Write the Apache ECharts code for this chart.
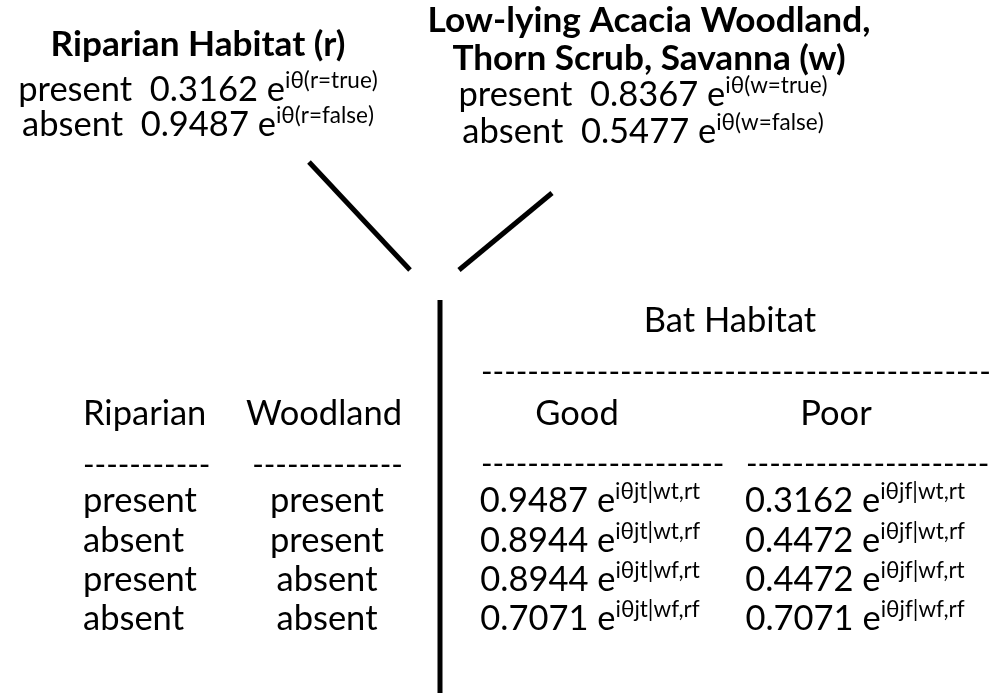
<!DOCTYPE html>
<html>
<head>
<meta charset="utf-8">
<script src="https://cdn.jsdelivr.net/npm/echarts@6/dist/echarts.min.js"></script>
<style>
html,body{margin:0;padding:0;background:#fff;}
#chart{width:992px;height:693px;}
</style>
</head>
<body>
<div id="chart"></div>
<script>
// ---- data ----
const riparianTitle = 'Riparian Habitat (r)';
const woodlandTitle = ['Low-lying Acacia Woodland,', 'Thorn Scrub, Savanna (w)'];
const priorStates = ['present', 'absent'];
const riparianAmps = [0.3162, 0.9487];
const riparianPhases = ['r=true', 'r=false'];
const woodlandAmps = [0.8367, 0.5477];
const woodlandPhases = ['w=true', 'w=false'];
const tableHeaders = ['Riparian', 'Woodland'];
const tableRiparian = ['present', 'absent', 'present', 'absent'];
const tableWoodland = ['present', 'present', 'absent', 'absent'];
const outcomeTitle = 'Bat Habitat';
const outcomeHeaders = ['Good', 'Poor'];
const goodAmps = [0.9487, 0.8944, 0.8944, 0.7071];
const poorAmps = [0.3162, 0.4472, 0.4472, 0.7071];
const conditionKeys = ['wt,rt', 'wt,rf', 'wf,rt', 'wf,rf'];
const dashCounts = {col1: 11, col2: 13, wide: 45, good: 21, poor: 21};

// ---- layout / style ----
const FONT = 'Lato';
const BASE = 34.5, TITLE = 35.2, DASH = 31.2, SUP = 22.5, LH = 40;
const MID = 0.387; // distance from middle to alphabetic baseline (em)
const richStyles = {
  sup: {fontSize: SUP, fontFamily: FONT, lineHeight: 29, verticalAlign: 'top', fill: '#000'}
};
const dashes = n => '-'.repeat(n);
const amp = v => v.toFixed(4);
const expo = (v, ph) => amp(v) + ' e{sup|iθ' + ph + '}';

const texts = [];
function T(text, x, baseline, align, kind) {
  const size = kind === 'bold' ? TITLE : kind === 'dash' ? DASH : BASE;
  texts.push({text, x, y: baseline - MID * size, align, size, bold: kind === 'bold'});
}
// top left block
T(riparianTitle, 198, 58, 'center', 'bold');
priorStates.forEach((s, i) => T(s + '  ' + expo(riparianAmps[i], '(' + riparianPhases[i] + ')'), 198, 103 + i * 35, 'center'));
// top right block
T(woodlandTitle[0], 649, 34, 'center', 'bold');
T(woodlandTitle[1], 649, 72, 'center', 'bold');
priorStates.forEach((s, i) => T(s + '  ' + expo(woodlandAmps[i], '(' + woodlandPhases[i] + ')'), 643, 108 + i * 37, 'center'));
// left table
T(tableHeaders[0], 83, 427, 'left');
T(tableHeaders[1], 324, 427, 'center');
T(dashes(dashCounts.col1), 83, 477, 'left', 'dash');
T(dashes(dashCounts.col2), 327.5, 477, 'center', 'dash');
const rowBase = [514, 554, 593, 632];
tableRiparian.forEach((s, i) => T(s, 83, rowBase[i], 'left'));
tableWoodland.forEach((s, i) => T(s, 327, rowBase[i], 'center'));
// right table
T(outcomeTitle, 730, 334, 'center');
T(dashes(dashCounts.wide), 481, 384, 'left', 'dash');
T(outcomeHeaders[0], 577, 427, 'center');
T(outcomeHeaders[1], 836, 427, 'center');
T(dashes(dashCounts.good), 481, 476, 'left', 'dash');
T(dashes(dashCounts.poor), 746, 476, 'left', 'dash');
goodAmps.forEach((v, i) => T(expo(v, 'jt|' + conditionKeys[i]), 590, rowBase[i], 'center'));
poorAmps.forEach((v, i) => T(expo(v, 'jf|' + conditionKeys[i]), 855, rowBase[i], 'center'));

const segments = [
  [309, 162, 410, 270],
  [459, 270, 552, 193],
  [440, 300, 440, 693]
];

const chart = echarts.init(document.getElementById('chart'), null, {renderer: 'canvas'});
chart.setOption({
  animation: false,
  backgroundColor: '#ffffff',
  grid: {left: 0, right: 0, top: 0, bottom: 0},
  xAxis: {type: 'value', min: 0, max: 992, show: false},
  yAxis: {type: 'value', min: 0, max: 693, inverse: true, show: false},
  series: [
    {
      type: 'custom',
      clip: false,
      data: segments,
      encode: {x: [0, 2], y: [1, 3]},
      renderItem: (params, api) => {
        const a = api.coord([api.value(0), api.value(1)]);
        const b = api.coord([api.value(2), api.value(3)]);
        return {type: 'line', shape: {x1: a[0], y1: a[1], x2: b[0], y2: b[1]},
          style: {stroke: '#000', lineWidth: 5, lineCap: 'butt'}};
      }
    },
    {
      type: 'custom',
      clip: false,
      data: texts.map(t => [t.x, t.y]),
      encode: {x: 0, y: 1},
      renderItem: (params, api) => {
        const t = texts[params.dataIndex];
        const p = api.coord([api.value(0), api.value(1)]);
        return {type: 'text', x: p[0], y: p[1], style: {
          text: t.text, rich: richStyles, fontSize: t.size, fontFamily: FONT,
          fontWeight: t.bold ? 'bold' : 'normal', lineHeight: LH,
          fill: '#000', align: t.align, verticalAlign: 'middle'
        }};
      }
    }
  ]
});
</script>
</body>
</html>
